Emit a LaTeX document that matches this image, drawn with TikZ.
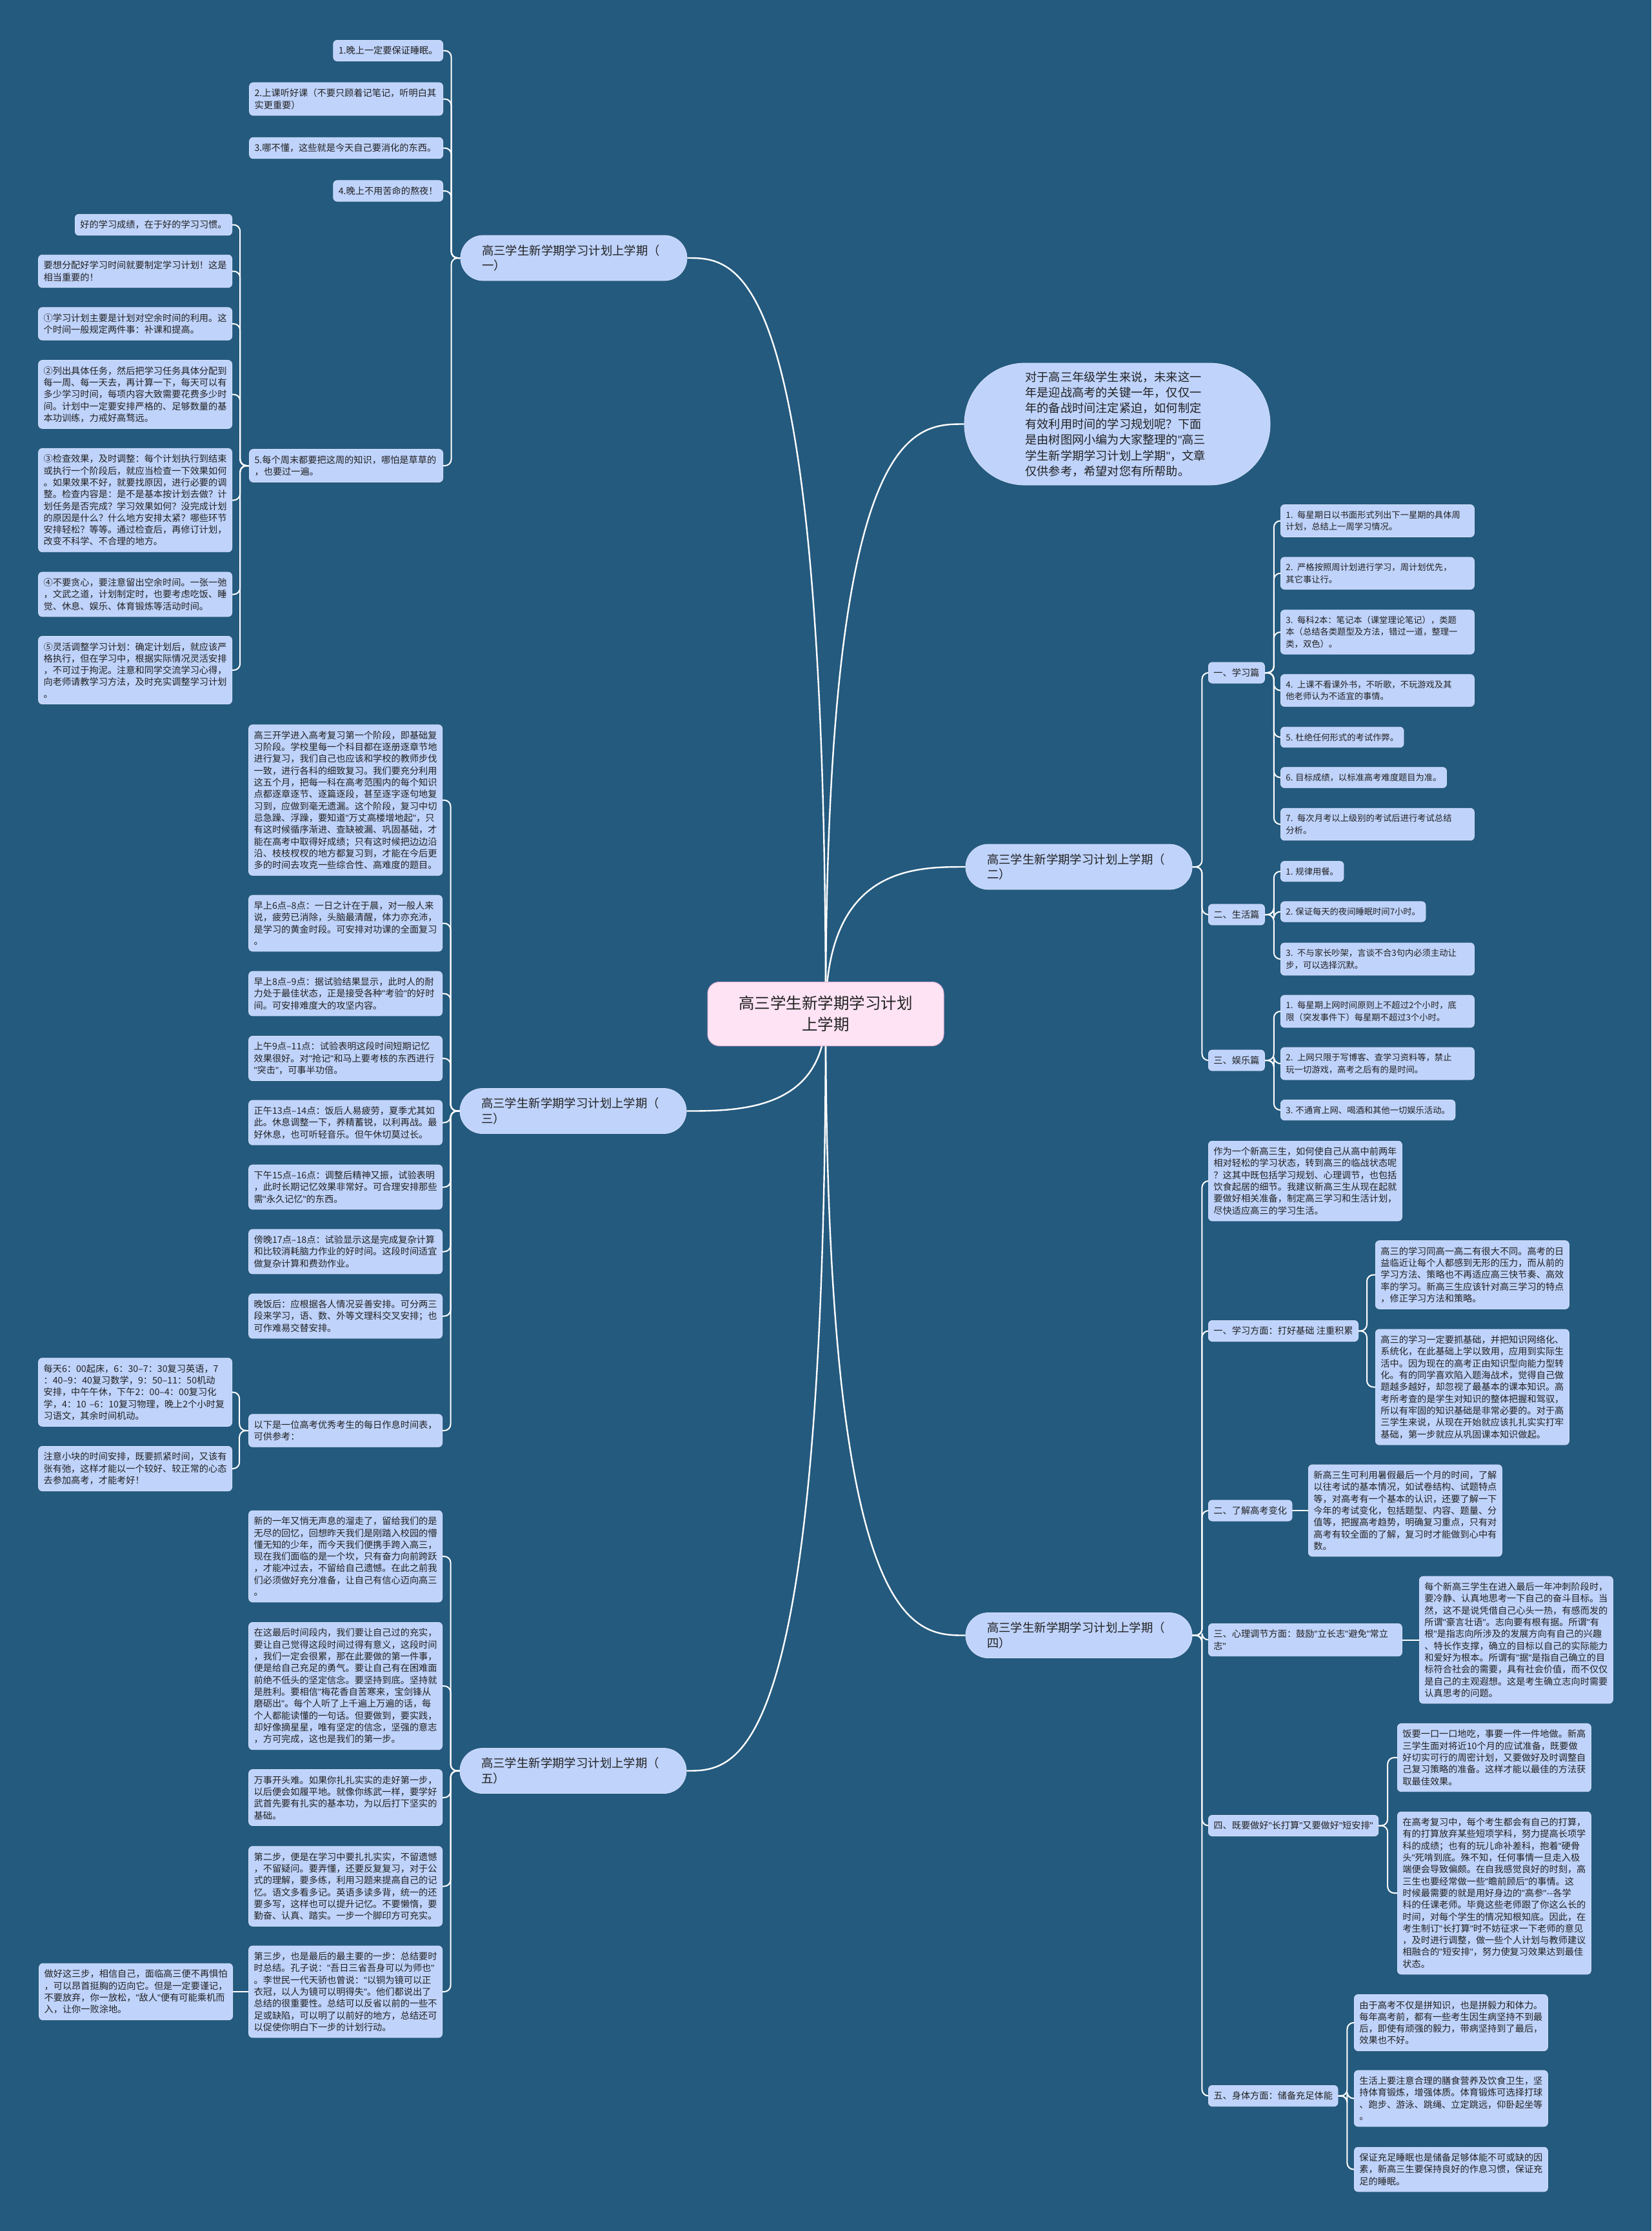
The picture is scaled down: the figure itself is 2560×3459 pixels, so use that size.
\documentclass[tikz,border=0pt]{standalone}
\usepackage{fontspec}
\setmainfont{Noto Sans CJK SC}
\newfontfamily\quotefont{Liberation Sans}
\newcommand\dq{{\quotefont"}}
\usepackage{tikz}
\usetikzlibrary{backgrounds}
\definecolor{bgblue}{HTML}{245A7E}
\definecolor{cardbg}{HTML}{BFD3FB}
\definecolor{cardbd}{HTML}{D3E0FC}
\definecolor{rootbg}{HTML}{FDE3F4}
\definecolor{rootbd}{HTML}{E7B3D6}
\definecolor{ink}{HTML}{222222}
\tikzset{
  leaf/.style={draw=cardbd,fill=cardbg,rounded corners=6pt,line width=0.8pt,
               inner xsep=8pt,inner ysep=9.5pt,align=left,text=ink,
               font=\fontsize{14.2}{18.3}\selectfont},
  wide/.style={leaf,text width=284pt},
  narrow/.style={font=\fontsize{13.3}{18.3}\selectfont},
  branch/.style={draw=cardbd,fill=cardbg,rounded corners=35pt,line width=0.8pt,
                 text width=285pt,inner xsep=33pt,minimum height=70pt,
                 align=left,text=ink,font=\fontsize{18.4}{23.5}\selectfont},
  root/.style={draw=rootbd,fill=rootbg,rounded corners=18pt,line width=1pt,
               minimum width=366pt,minimum height=99pt,align=center,text=ink,
               font=\fontsize{24.5}{33}\selectfont},
  intro/.style={draw=cardbd,fill=cardbg,rounded corners=94pt,line width=0.8pt,
                text width=285pt,inner xsep=94.5pt,minimum height=189pt,
                align=left,text=ink,font=\fontsize{18.2}{24.4}\selectfont},
  link/.style={draw=white,line width=2pt,rounded corners=10pt},
  rootlink/.style={draw=white,line width=2.4pt},
}

\begin{document}
\begin{tikzpicture}[x=1pt,y=-1pt]
  \useasboundingbox(0,0)rectangle(2560,3459);
  % Root and first level
  \node[root](root)at(1280,1572){高三学生新学期学习计划\\上学期};
  \node[intro](intro)at(1732,657.5){对于高三年级学生来说，未来这一\\年是迎战高考的关键一年，仅仅一\\年的备战时间注定紧迫，如何制定\\有效利用时间的学习规划呢？下面\\是由树图网小编为大家整理的\dq{}高三\\学生新学期学习计划上学期\dq{}，文章\\仅供参考，希望对您有所帮助。};
  \node[branch](b1)at(889.5,400){高三学生新学期学习计划上学期（\\一）};
  \node[branch](b2)at(1672.5,1344){高三学生新学期学习计划上学期（\\二）};
  \node[branch](b3)at(888.5,1722.5){高三学生新学期学习计划上学期（\\三）};
  \node[branch](b4)at(1672.5,2535.5){高三学生新学期学习计划上学期（\\四）};
  \node[branch](b5)at(888.5,2745.5){高三学生新学期学习计划上学期（\\五）};

  % Branch one
  \node[leaf,anchor=east](l1)at(687,78.5){1.晚上一定要保证睡眠。};
  \node[wide,anchor=east](l2)at(687,153.5){2.上课听好课（不要只顾着记笔记，听明白其\\实更重要）};
  \node[wide,anchor=east](l3)at(687,229.5){3.哪不懂，这些就是今天自己要消化的东西。};
  \node[leaf,anchor=east](l4)at(687,296){4.晚上不用苦命的熬夜！};
  \node[wide,anchor=east](l5)at(687,722){5.每个周末都要把这周的知识，哪怕是草草的\\，也要过一遍。};
  \node[leaf,anchor=east](k1)at(360,348.5){好的学习成绩，在于好的学习习惯。};
  \node[wide,anchor=east](k2)at(360,420.5){要想分配好学习时间就要制定学习计划！这是\\相当重要的！};
  \node[wide,anchor=east](k3)at(360,502){①学习计划主要是计划对空余时间的利用。这\\个时间一般规定两件事：补课和提高。};
  \node[wide,anchor=east](k4)at(360,611.5){②列出具体任务，然后把学习任务具体分配到\\每一周、每一天去，再计算一下，每天可以有\\多少学习时间，每项内容大致需要花费多少时\\间。计划中一定要安排严格的、足够数量的基\\本功训练，力戒好高骛远。};
  \node[wide,anchor=east](k5)at(360,775.5){③检查效果，及时调整：每个计划执行到结束\\或执行一个阶段后，就应当检查一下效果如何\\。如果效果不好，就要找原因，进行必要的调\\整。检查内容是：是不是基本按计划去做？计\\划任务是否完成？学习效果如何？没完成计划\\的原因是什么？什么地方安排太紧？哪些环节\\安排轻松？等等。通过检查后，再修订计划，\\改变不科学、不合理的地方。};
  \node[wide,anchor=east](k6)at(360,921.5){④不要贪心，要注意留出空余时间。一张一弛\\，文武之道，计划制定时，也要考虑吃饭、睡\\觉、休息、娱乐、体育锻炼等活动时间。};
  \node[wide,anchor=east](k7)at(360,1039){⑤灵活调整学习计划：确定计划后，就应该严\\格执行，但在学习中，根据实际情况灵活安排\\，不可过于拘泥。注意和同学交流学习心得，\\向老师请教学习方法，及时充实调整学习计划\\。};

  % Branch three
  \node[wide,anchor=east](m1)at(686,1240.5){高三开学进入高考复习第一个阶段，即基础复\\习阶段。学校里每一个科目都在逐册逐章节地\\进行复习，我们自己也应该和学校的教师步伐\\一致，进行各科的细致复习。我们要充分利用\\这五个月，把每一科在高考范围内的每个知识\\点都逐章逐节、逐篇逐段，甚至逐字逐句地复\\习到，应做到毫无遗漏。这个阶段，复习中切\\忌急躁、浮躁，要知道\dq{}万丈高楼增地起\dq{}，只\\有这时候循序渐进、查缺被漏、巩固基础，才\\能在高考中取得好成绩；只有这时候把边边沿\\沿、枝枝杈杈的地方都复习到，才能在今后更\\多的时间去攻克一些综合性、高难度的题目。};
  \node[wide,anchor=east](m2)at(686,1431.5){早上6点–8点：一日之计在于晨，对一般人来\\说，疲劳已消除，头脑最清醒，体力亦充沛，\\是学习的黄金时段。可安排对功课的全面复习\\。};
  \node[wide,anchor=east](m3)at(686,1540.5){早上8点–9点：据试验结果显示，此时人的耐\\力处于最佳状态，正是接受各种\dq{}考验\dq{}的好时\\间。可安排难度大的攻坚内容。};
  \node[wide,anchor=east](m4)at(686,1641){上午9点–11点：试验表明这段时间短期记忆\\效果很好。对\dq{}抢记\dq{}和马上要考核的东西进行\\\dq{}突击\dq{}，可事半功倍。};
  \node[wide,anchor=east](m5)at(686,1740.5){正午13点–14点：饭后人易疲劳，夏季尤其如\\此。休息调整一下，养精蓄锐，以利再战。最\\好休息，也可听轻音乐。但午休切莫过长。};
  \node[wide,anchor=east](m6)at(686,1840.5){下午15点–16点：调整后精神又振，试验表明\\，此时长期记忆效果非常好。可合理安排那些\\需\dq{}永久记忆\dq{}的东西。};
  \node[wide,anchor=east](m7)at(686,1940.5){傍晚17点–18点：试验显示这是完成复杂计算\\和比较消耗脑力作业的好时间。这段时间适宜\\做复杂计算和费劲作业。};
  \node[wide,anchor=east](m8)at(686,2040.5){晚饭后：应根据各人情况妥善安排。可分两三\\段来学习，语、数、外等文理科交叉安排；也\\可作难易交替安排。};
  \node[wide,anchor=east](m9)at(686,2218){以下是一位高考优秀考生的每日作息时间表，\\可供参考：};
  \node[wide,anchor=east](n1)at(360,2158.5){每天6：00起床，6：30–7：30复习英语，7\\：40–9：40复习数学，9：50–11：50机动\\安排，中午午休，下午2：00–4：00复习化\\学，4：10~–6：10复习物理，晚上2个小时复\\习语文，其余时间机动。};
  \node[wide,anchor=east](n2)at(360,2277){注意小块的时间安排，既要抓紧时间，又该有\\张有弛，这样才能以一个较好、较正常的心态\\去参加高考，才能考好！};

  % Branch five
  \node[wide,anchor=east](p1)at(686,2413){新的一年又悄无声息的溜走了，留给我们的是\\无尽的回忆，回想昨天我们是刚踏入校园的懵\\懂无知的少年，而今天我们便携手跨入高三，\\现在我们面临的是一个坎，只有奋力向前跨跃\\，才能冲过去，不留给自己遗憾。在此之前我\\们必须做好充分准备，让自己有信心迈向高三\\。};
  \node[wide,anchor=east](p2)at(686,2614){在这最后时间段内，我们要让自己过的充实，\\要让自己觉得这段时间过得有意义，这段时间\\，我们一定会很累，那在此要做的第一件事，\\便是给自己充足的勇气。要让自己有在困难面\\前绝不低头的坚定信念。要坚持到底。坚持就\\是胜利。要相信\dq{}梅花香自苦寒来，宝剑锋从\\磨砺出\dq{}。每个人听了上千遍上万遍的话，每\\个人都能读懂的一句话。但要做到，要实践，\\却好像摘星星，唯有坚定的信念，坚强的意志\\，方可完成，这也是我们的第一步。};
  \node[wide,anchor=east](p3)at(686,2787){万事开头难。如果你扎扎实实的走好第一步，\\以后便会如履平地。就像你练武一样，要学好\\武首先要有扎实的基本功，为以后打下坚实的\\基础。};
  \node[wide,anchor=east](p4)at(686,2924.5){第二步，便是在学习中要扎扎实实，不留遗憾\\，不留疑问。要弄懂，还要反复复习，对于公\\式的理解，要多练，利用习题来提高自己的记\\忆。语文多看多记。英语多读多背，统一的还\\要多写，这样也可以提升记忆。不要懒惰，要\\勤奋、认真、踏实。一步一个脚印方可充实。};
  \node[wide,anchor=east](p5)at(686,3088){第三步，也是最后的最主要的一步：总结要时\\时总结。孔子说：\dq{}吾日三省吾身可以为师也\dq{}\\。李世民一代天骄也曾说：\dq{}以铜为镜可以正\\衣冠，以人为镜可以明得失\dq{}。他们都说出了\\总结的很重要性。总结可以反省以前的一些不\\足或缺陷，可以明了以前好的地方，总结还可\\以促使你明白下一步的计划行动。};
  \node[wide,anchor=east](q1)at(361,3088){做好这三步，相信自己，面临高三便不再惧怕\\，可以昂首挺胸的迈向它。但是一定要谨记，\\不要放弃，你一放松，\dq{}敌人\dq{}便有可能乘机而\\入，让你一败涂地。};

  % Branch two
  \node[leaf,anchor=west](b2a)at(1873,1043){一、学习篇};
  \node[leaf,anchor=west](b2b)at(1873,1418){二、生活篇};
  \node[leaf,anchor=west](b2c)at(1873,1644){三、娱乐篇};
  \node[wide,narrow,anchor=west](r1)at(1985,807.5){1. 每星期日以书面形式列出下一星期的具体周\\计划，总结上一周学习情况。};
  \node[wide,narrow,anchor=west](r2)at(1985,888.75){2. 严格按照周计划进行学习，周计划优先，\\其它事让行。};
  \node[wide,narrow,anchor=west](r3)at(1985,980){3. 每科2本：笔记本（课堂理论笔记），类题\\本（总结各类题型及方法，错过一道，整理一\\类，双色）。};
  \node[wide,narrow,anchor=west](r4)at(1985,1070.5){4. 上课不看课外书，不听歌，不玩游戏及其\\他老师认为不适宜的事情。};
  \node[leaf,narrow,anchor=west](r5)at(1985,1143){5. 杜绝任何形式的考试作弊。};
  \node[leaf,narrow,anchor=west](r6)at(1985,1205.5){6. 目标成绩，以标准高考难度题目为准。};
  \node[wide,narrow,anchor=west](r7)at(1985,1278){7. 每次月考以上级别的考试后进行考试总结\\分析。};
  \node[leaf,narrow,anchor=west](s1)at(1985,1351){1. 规律用餐。};
  \node[leaf,narrow,anchor=west](s2)at(1985,1413.5){2. 保证每天的夜间睡眠时间7小时。};
  \node[wide,narrow,anchor=west](s3)at(1985,1487){3. 不与家长吵架，言谈不合3句内必须主动让\\步，可以选择沉默。};
  \node[wide,narrow,anchor=west](t1)at(1985,1568){1. 每星期上网时间原则上不超过2个小时，底\\限（突发事件下）每星期不超过3个小时。};
  \node[wide,narrow,anchor=west](t2)at(1985,1649){2. 上网只限于写博客、查学习资料等，禁止\\玩一切游戏，高考之后有的是时间。};
  \node[leaf,narrow,anchor=west](t3)at(1985,1721){3. 不通宵上网、喝酒和其他一切娱乐活动。};

  % Branch four
  \node[wide,anchor=west](u0)at(1873,1831){作为一个新高三生，如何使自己从高中前两年\\相对轻松的学习状态，转到高三的临战状态呢\\？这其中既包括学习规划、心理调节，也包括\\饮食起居的细节。我建议新高三生从现在起就\\要做好相关准备，制定高三学习和生活计划，\\尽快适应高三的学习生活。};
  \node[leaf,anchor=west](u1)at(1873,2063.5){一、学习方面：打好基础 注重积累};
  \node[wide,anchor=west](u1a)at(2132,1976.5){高三的学习同高一高二有很大不同。高考的日\\益临近让每个人都感到无形的压力，而从前的\\学习方法、策略也不再适应高三快节奏、高效\\率的学习。新高三生应该针对高三学习的特点\\，修正学习方法和策略。};
  \node[wide,anchor=west](u1b)at(2132,2150.5){高三的学习一定要抓基础，并把知识网络化、\\系统化，在此基础上学以致用，应用到实际生\\活中。因为现在的高考正由知识型向能力型转\\化。有的同学喜欢陷入题海战术，觉得自己做\\题越多越好，却忽视了最基本的课本知识。高\\考所考查的是学生对知识的整体把握和驾驭，\\所以有牢固的知识基础是非常必要的。对于高\\三学生来说，从现在开始就应该扎扎实实打牢\\基础，第一步就应从巩固课本知识做起。};
  \node[leaf,anchor=west](u2)at(1873,2342){二、了解高考变化};
  \node[wide,anchor=west](u2a)at(2028,2342){新高三生可利用暑假最后一个月的时间，了解\\以往考试的基本情况，如试卷结构、试题特点\\等，对高考有一个基本的认识，还要了解一下\\今年的考试变化，包括题型、内容、题量、分\\值等，把握高考趋势，明确复习重点，只有对\\高考有较全面的了解，复习时才能做到心中有\\数。};
  \node[wide,anchor=west](u3)at(1873,2542.5){三、心理调节方面：鼓励\dq{}立长志\dq{}避免\dq{}常立\\志\dq{}};
  \node[wide,anchor=west](u3a)at(2200,2542.5){每个新高三学生在进入最后一年冲刺阶段时，\\要冷静、认真地思考一下自己的奋斗目标。当\\然，这不是说凭借自己心头一热，有感而发的\\所谓\dq{}豪言壮语\dq{}。志向要有根有据。所谓\dq{}有\\根\dq{}是指志向所涉及的发展方向有自己的兴趣\\、特长作支撑，确立的目标以自己的实际能力\\和爱好为根本。所谓有\dq{}据\dq{}是指自己确立的目\\标符合社会的需要，具有社会价值，而不仅仅\\是自己的主观遐想。这是考生确立志向时需要\\认真思考的问题。};
  \node[leaf,anchor=west](u4)at(1873,2830.5){四、既要做好\dq{}长打算\dq{}又要做好\dq{}短安排\dq{}};
  \node[wide,anchor=west](u4a)at(2166,2725){饭要一口一口地吃，事要一件一件地做。新高\\三学生面对将近10个月的应试准备，既要做\\好切实可行的周密计划，又要做好及时调整自\\己复习策略的准备。这样才能以最佳的方法获\\取最佳效果。};
  \node[wide,anchor=west](u4b)at(2166,2935){在高考复习中，每个考生都会有自己的打算，\\有的打算放弃某些短项学科，努力提高长项学\\科的成绩；也有的玩儿命补差科，抱着\dq{}硬骨\\头\dq{}死啃到底。殊不知，任何事情一旦走入极\\端便会导致偏颇。在自我感觉良好的时刻，高\\三生也要经常做一些\dq{}瞻前顾后\dq{}的事情。这\\时候最需要的就是用好身边的\dq{}高参\dq{}\mbox{-{}-}各学\\科的任课老师。毕竟这些老师跟了你这么长的\\时间，对每个学生的情况知根知底。因此，在\\考生制订\dq{}长打算\dq{}时不妨征求一下老师的意见\\，及时进行调整，做一些个人计划与教师建议\\相融合的\dq{}短安排\dq{}，努力使复习效果达到最佳\\状态。};
  \node[leaf,anchor=west](u5)at(1873,3249.5){五、身体方面：储备充足体能};
  \node[wide,anchor=west](u5a)at(2099,3136){由于高考不仅是拼知识，也是拼毅力和体力。\\每年高考前，都有一些考生因生病坚持不到最\\后，即使有顽强的毅力，带病坚持到了最后，\\效果也不好。};
  \node[wide,anchor=west](u5b)at(2099,3253.5){生活上要注意合理的膳食营养及饮食卫生，坚\\持体育锻炼，增强体质。体育锻炼可选择打球\\、跑步、游泳、跳绳、立定跳远，仰卧起坐等\\。};
  \node[wide,anchor=west](u5c)at(2099,3363.5){保证充足睡眠也是储备足够体能不可或缺的因\\素，新高三生要保持良好的作息习惯，保证充\\足的睡眠。};

  \begin{scope}[on background layer]
    \fill[bgblue](0,0)rectangle(2560,3459);
    % Root links
    \foreach \n in {b1,b3,b5}{
      \draw[rootlink](root.center)..controls(root.center|-\n.east)and+(80,0)..(\n.east);}
    \foreach \n in {intro,b2,b4}{
      \draw[rootlink](root.center)..controls(root.center|-\n.west)and+(-80,0)..(\n.west);}
    % Left brackets
    \foreach \n in {l1,l2,l3,l4,l5}{\draw[link](b1.west)--++(-14,0)|-(\n.east);}
    \foreach \n in {k1,k2,k3,k4,k5,k6,k7}{\draw[link](l5.west)--++(-14,0)|-(\n.east);}
    \foreach \n in {m1,m2,m3,m4,m5,m6,m7,m8,m9}{\draw[link](b3.west)--++(-14,0)|-(\n.east);}
    \foreach \n in {n1,n2}{\draw[link](m9.west)--++(-14,0)|-(\n.east);}
    \foreach \n in {p1,p2,p3,p4,p5}{\draw[link](b5.west)--++(-14,0)|-(\n.east);}
    \draw[link](p5.west)--(q1.east);
    % Right brackets
    \foreach \n in {b2a,b2b,b2c}{\draw[link](b2.east)--++(15,0)|-(\n.west);}
    \foreach \n in {r1,r2,r3,r4,r5,r6,r7}{\draw[link](b2a.east)--++(14,0)|-(\n.west);}
    \foreach \n in {s1,s2,s3}{\draw[link](b2b.east)--++(14,0)|-(\n.west);}
    \foreach \n in {t1,t2,t3}{\draw[link](b2c.east)--++(14,0)|-(\n.west);}
    \foreach \n in {u0,u1,u2,u3,u4,u5}{\draw[link](b4.east)--++(15,0)|-(\n.west);}
    \foreach \n in {u1a,u1b}{\draw[link](u1.east)--++(13,0)|-(\n.west);}
    \draw[link](u2.east)--(u2a.west);
    \draw[link](u3.east)--(u3a.west);
    \foreach \n in {u4a,u4b}{\draw[link](u4.east)--++(14,0)|-(\n.west);}
    \foreach \n in {u5a,u5b,u5c}{\draw[link](u5.east)--++(14,0)|-(\n.west);}
  \end{scope}
\end{tikzpicture}
\end{document}
